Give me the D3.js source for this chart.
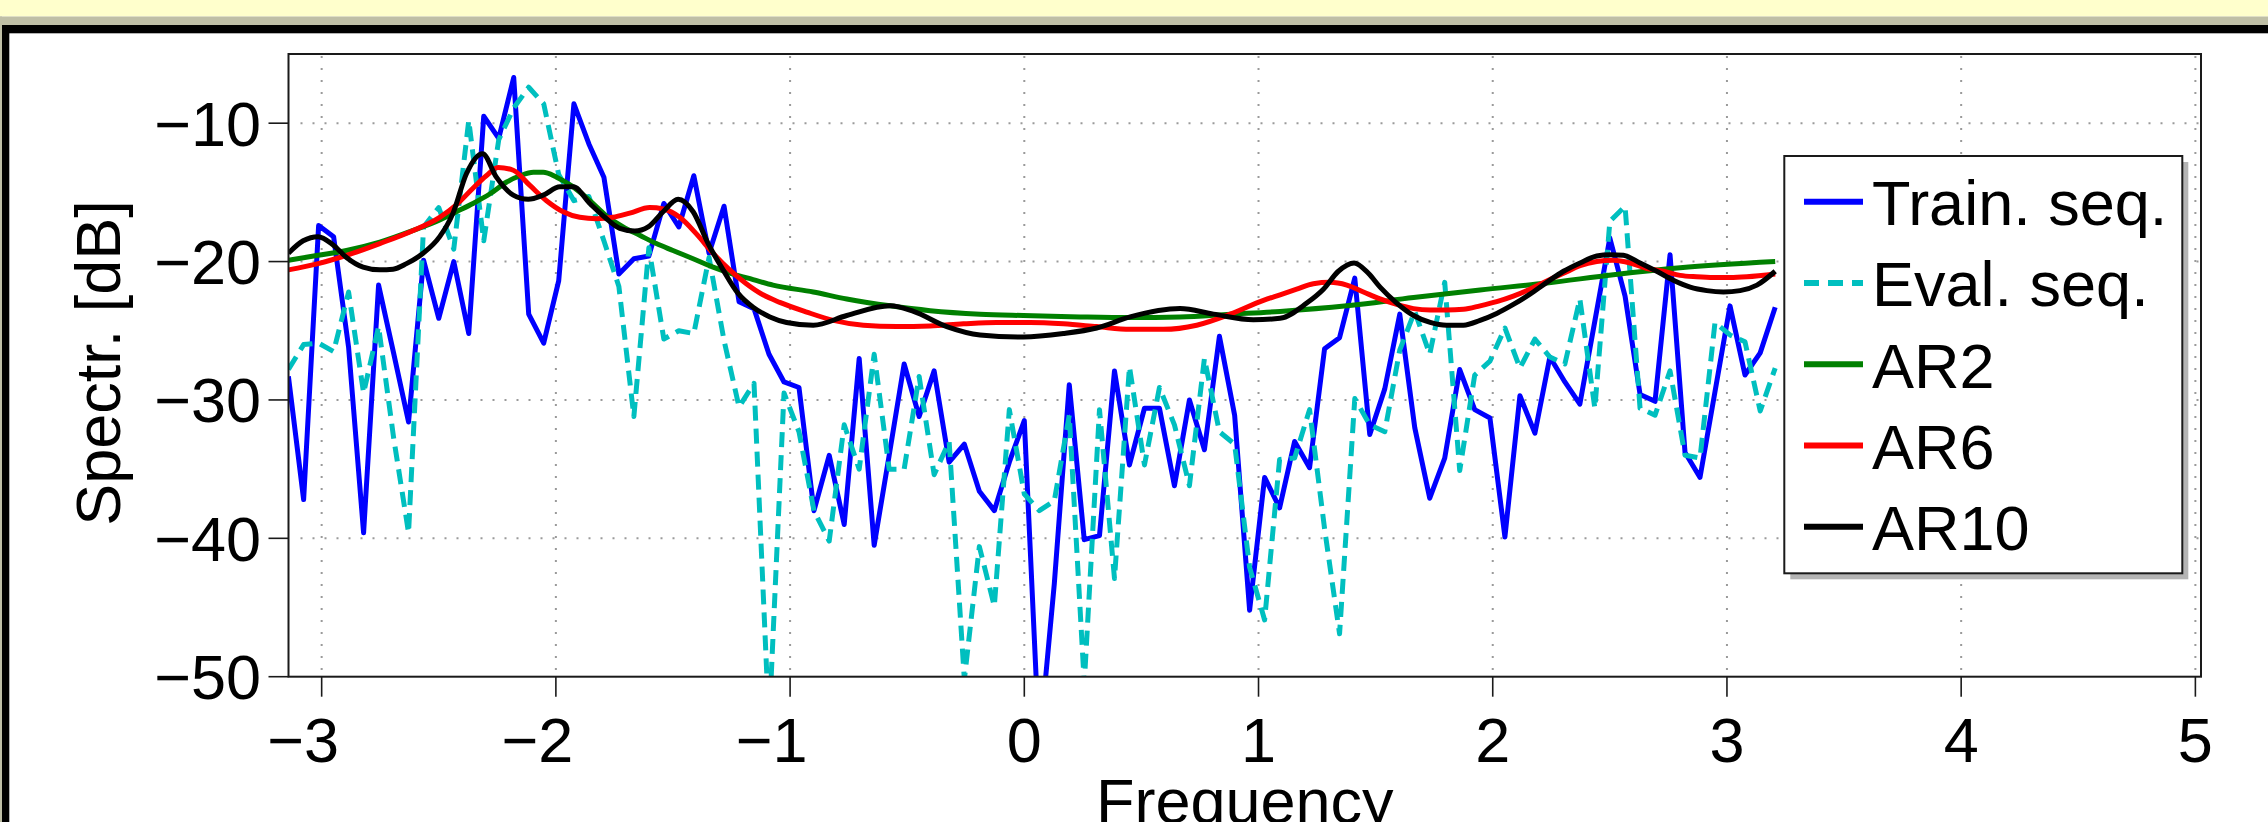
<!DOCTYPE html>
<html><head><meta charset="utf-8">
<script src="https://cdn.jsdelivr.net/npm/d3@7/dist/d3.min.js"></script>
<style>html,body{margin:0;padding:0;background:#fff;overflow:hidden}</style>
</head><body><svg id="c" width="2268" height="822"></svg>
<script>
// ---------- data ----------
const freq = [-3.142,-3.077,-3.013,-2.949,-2.885,-2.821,-2.757,-2.693,-2.629,-2.565,
  -2.500,-2.436,-2.372,-2.308,-2.244,-2.180,-2.116,-2.052,-1.988,-1.923,
  -1.859,-1.795,-1.731,-1.667,-1.603,-1.539,-1.475,-1.411,-1.346,-1.282,
  -1.218,-1.154,-1.090,-1.026,-0.962,-0.898,-0.833,-0.769,-0.705,-0.641,
  -0.577,-0.513,-0.449,-0.385,-0.321,-0.256,-0.192,-0.128,-0.064,0.000,
  0.064,0.128,0.192,0.256,0.321,0.385,0.449,0.513,0.577,0.641,
  0.705,0.769,0.833,0.898,0.962,1.026,1.090,1.154,1.218,1.282,
  1.346,1.411,1.475,1.539,1.603,1.667,1.731,1.795,1.859,1.923,
  1.988,2.052,2.116,2.180,2.244,2.308,2.372,2.436,2.500,2.565,
  2.629,2.693,2.757,2.821,2.885,2.949,3.013,3.077,3.142,3.206];

const trainDb = [-28.3,-37.2,-17.4,-18.2,-26.2,-39.6,-21.7,-26.6,-31.6,-19.9,
  -24.1,-20.0,-25.2,-9.5,-11.1,-6.7,-23.8,-25.9,-21.4,-8.6,
  -11.5,-13.9,-20.9,-19.8,-19.6,-15.8,-17.5,-13.8,-19.4,-16.0,
  -22.9,-23.4,-26.7,-28.7,-29.1,-38.0,-34.0,-39.0,-27.0,-40.5,
  -34.0,-27.4,-31.2,-27.9,-34.5,-33.2,-36.6,-38.0,-34.5,-31.5,
  -55.0,-43.3,-28.9,-40.1,-39.8,-27.9,-34.7,-30.6,-30.6,-36.2,
  -30.0,-33.6,-25.4,-31.1,-45.2,-35.6,-37.8,-33.0,-34.9,-26.3,
  -25.5,-21.2,-32.5,-29.2,-23.8,-32.0,-37.1,-34.2,-27.8,-30.7,
  -31.3,-39.9,-29.7,-32.4,-26.9,-28.7,-30.3,-24.3,-18.3,-22.5,
  -29.6,-30.1,-19.5,-33.8,-35.6,-29.4,-23.2,-28.2,-26.6,-23.3];

const evalDb = [-27.8,-26.0,-25.9,-26.5,-22.2,-29.5,-24.7,-32.7,-39.6,-17.5,
  -16.1,-19.1,-9.8,-18.5,-11.2,-8.9,-7.4,-8.6,-13.7,-15.6,
  -15.3,-18.5,-21.8,-31.2,-19.0,-25.6,-25.0,-25.2,-19.7,-25.7,
  -30.5,-28.8,-53.5,-29.5,-32.3,-38.0,-40.2,-31.8,-35.0,-26.7,
  -35.0,-35.0,-28.3,-35.4,-33.0,-50.2,-40.6,-44.9,-30.7,-36.8,
  -38.0,-37.3,-31.1,-50.5,-30.7,-42.9,-27.6,-34.7,-29.1,-31.8,
  -36.2,-27.0,-32.3,-33.2,-42.1,-45.9,-34.3,-34.2,-30.7,-39.3,
  -46.9,-29.9,-31.8,-32.3,-26.4,-23.6,-26.7,-21.5,-35.1,-28.2,
  -27.2,-24.8,-27.7,-25.6,-26.9,-27.4,-22.7,-30.6,-17.1,-16.0,
  -30.6,-31.1,-27.9,-34.0,-34.2,-24.4,-25.3,-25.8,-30.8,-27.7];

const ar2Freq = [-3.142,-3.015,-2.894,-2.752,-2.609,-2.496,-2.425,-2.354,-2.281,-2.210,
  -2.153,-2.096,-2.054,-1.997,-1.926,-1.855,-1.784,-1.713,-1.642,-1.571,
  -1.500,-1.414,-1.329,-1.244,-1.158,-1.073,-0.901,-0.758,-0.573,-0.402,
  -0.189,-0.004,0.238,0.452,0.665,0.879,1.092,1.377,1.662,1.946,
  2.231,2.515,2.800,3.206];
const ar2Db = [-19.9,-19.55,-19.2,-18.6,-17.75,-17.0,-16.4,-15.8,-15.1,-14.25,
  -13.8,-13.55,-13.55,-13.9,-14.6,-15.6,-16.7,-17.5,-18.1,-18.7,
  -19.2,-19.8,-20.4,-20.9,-21.3,-21.7,-22.2,-22.7,-23.2,-23.55,
  -23.8,-23.9,-24.0,-24.05,-24.0,-23.8,-23.6,-23.2,-22.6,-22.05,
  -21.55,-20.95,-20.45,-20.0];

const ar6Freq = [-3.142,-3.015,-2.894,-2.752,-2.609,-2.496,-2.425,-2.354,-2.297,-2.247,
  -2.182,-2.111,-2.040,-1.969,-1.898,-1.827,-1.756,-1.685,-1.599,-1.542,
  -1.471,-1.400,-1.329,-1.258,-1.187,-1.116,-1.044,-0.929,-0.815,-0.687,
  -0.545,-0.402,-0.260,-0.118,0.025,0.167,0.309,0.452,0.594,0.736,
  0.879,1.021,1.092,1.163,1.234,1.305,1.377,1.448,1.519,1.590,
  1.662,1.733,1.803,1.875,1.946,2.017,2.088,2.159,2.231,2.302,
  2.373,2.444,2.515,2.587,2.658,2.729,2.800,2.871,2.943,3.014,
  3.085,3.206];
const ar6Db = [-20.6,-20.15,-19.55,-18.7,-17.75,-16.8,-15.9,-14.7,-13.8,-13.2,
  -13.4,-14.5,-15.6,-16.4,-16.8,-16.9,-16.8,-16.5,-16.1,-16.2,
  -16.8,-18.0,-19.4,-20.6,-21.6,-22.4,-22.95,-23.65,-24.25,-24.6,
  -24.7,-24.65,-24.5,-24.4,-24.4,-24.5,-24.7,-24.9,-24.9,-24.6,
  -23.8,-22.8,-22.4,-22.0,-21.6,-21.5,-21.7,-22.2,-22.7,-23.1,
  -23.4,-23.5,-23.5,-23.45,-23.2,-22.9,-22.5,-22.0,-21.4,-20.85,
  -20.3,-20.0,-19.9,-20.1,-20.5,-20.7,-21.0,-21.1,-21.15,-21.15,
  -21.1,-20.9];

const ar10Freq = [-3.142,-3.079,-3.015,-2.951,-2.894,-2.823,-2.752,-2.695,-2.638,-2.567,
  -2.496,-2.439,-2.382,-2.313,-2.254,-2.182,-2.118,-2.054,-1.983,-1.926,
  -1.855,-1.791,-1.727,-1.663,-1.606,-1.542,-1.478,-1.414,-1.350,-1.286,
  -1.222,-1.158,-1.086,-1.015,-0.901,-0.758,-0.573,-0.473,-0.331,-0.189,
  -0.004,0.167,0.309,0.452,0.665,0.808,0.978,1.092,1.206,1.277,
  1.341,1.408,1.469,1.519,1.590,1.662,1.733,1.803,1.875,1.946,
  2.017,2.088,2.159,2.231,2.302,2.373,2.444,2.501,2.558,2.629,
  2.700,2.771,2.843,2.914,2.985,3.056,3.128,3.206];
const ar10Db = [-19.4,-18.5,-18.2,-18.8,-19.7,-20.4,-20.6,-20.55,-20.15,-19.4,
  -18.2,-16.5,-13.65,-12.2,-13.9,-15.2,-15.5,-15.2,-14.6,-14.6,
  -15.8,-16.8,-17.6,-17.8,-17.5,-16.4,-15.5,-16.4,-18.7,-20.6,
  -22.3,-23.3,-24.0,-24.4,-24.6,-23.9,-23.2,-23.6,-24.7,-25.3,
  -25.45,-25.2,-24.8,-24.0,-23.4,-23.8,-24.2,-24.1,-23.0,-22.0,
  -20.7,-20.1,-20.85,-21.85,-23.0,-23.9,-24.4,-24.6,-24.6,-24.25,
  -23.75,-23.1,-22.35,-21.5,-20.7,-20.1,-19.6,-19.5,-19.55,-20.1,
  -20.7,-21.35,-21.85,-22.1,-22.2,-22.1,-21.7,-20.7];

const xTicks = [-3,-2,-1,0,1,2,3,4,5];
const yTicks = [-50,-40,-30,-20,-10];
const yGrid = [-40,-30,-20,-10];
const legendLabels = ["Train. seq.","Eval. seq.","AR2","AR6","AR10"];

// ---------- layout ----------
const W = 2268, H = 822;
const FONT = "'Liberation Sans', Arial, Helvetica, sans-serif";
const FS = 63;
const svg = d3.select("#c");

// window frame
svg.append("rect").attr("x",0).attr("y",0).attr("width",W).attr("height",H).attr("fill","#ffffff");
svg.append("rect").attr("x",0).attr("y",0).attr("width",W).attr("height",16.5).attr("fill","#ffffcc");
svg.append("rect").attr("x",0).attr("y",16.5).attr("width",W).attr("height",8.5).attr("fill","#bfbfa6");
svg.append("rect").attr("x",0).attr("y",16.5).attr("width",2).attr("height",H).attr("fill","#bfbfa6");
svg.append("rect").attr("x",2).attr("y",25).attr("width",W).attr("height",8.3).attr("fill","#000");
svg.append("rect").attr("x",2).attr("y",25).attr("width",7.3).attr("height",H).attr("fill","#000");

const L = 288.5, R = 2201, T = 54, B = 676.7;
const x = d3.scaleLinear().domain([-Math.PI, 5.024]).range([L, R]);
const y = d3.scaleLinear().domain([-50, -5]).range([B, T]);

// grid
const grid = svg.append("g").attr("stroke","#9a9a9a").attr("stroke-width",2)
  .attr("stroke-dasharray","2,10");
grid.selectAll("line.v").data(xTicks).join("line")
  .attr("x1",d=>x(d)).attr("x2",d=>x(d)).attr("y1",T+2).attr("y2",B);
grid.selectAll("line.h").data(yGrid).join("line")
  .attr("x1",L+12).attr("x2",R).attr("y1",d=>y(d)).attr("y2",d=>y(d));

// clip
svg.append("clipPath").attr("id","pc").append("rect")
  .attr("x",L).attr("y",T).attr("width",R-L).attr("height",B-T);
const plot = svg.append("g").attr("clip-path","url(#pc)");

const lineRaw = d3.line().x(d=>x(d[0])).y(d=>y(d[1]));
const lineSmooth = d3.line().x(d=>x(d[0])).y(d=>y(d[1])).curve(d3.curveMonotoneX);
const zip = (a,b)=>a.map((v,i)=>[v,b[i]]);

const series = [
  {data: zip(freq, trainDb), color:"#0000ff", dash:null, gen:lineRaw},
  {data: zip(freq, evalDb), color:"#00bfbf", dash:"15,8", gen:lineRaw},
  {data: zip(ar2Freq, ar2Db), color:"#008000", dash:null, gen:lineSmooth},
  {data: zip(ar6Freq, ar6Db), color:"#ff0000", dash:null, gen:lineSmooth},
  {data: zip(ar10Freq, ar10Db), color:"#000000", dash:null, gen:lineSmooth}
];
series.forEach(s=>{
  plot.append("path").attr("d", s.gen(s.data)).attr("fill","none")
    .attr("stroke", s.color).attr("stroke-width",5)
    .attr("stroke-linejoin","round")
    .attr("stroke-dasharray", s.dash);
});

// axes frame
svg.append("rect").attr("x",L).attr("y",T).attr("width",R-L).attr("height",B-T)
  .attr("fill","none").attr("stroke","#1a1a1a").attr("stroke-width",2);

// ticks
const tk = svg.append("g").attr("stroke","#1a1a1a").attr("stroke-width",1.6);
tk.selectAll("line.x").data(xTicks).join("line")
  .attr("x1",d=>x(d)).attr("x2",d=>x(d)).attr("y1",B).attr("y2",B+20);
tk.selectAll("line.y").data(yTicks).join("line")
  .attr("x1",L-20).attr("x2",L).attr("y1",d=>y(d)).attr("y2",d=>y(d));

const fmt = d => (d<0 ? "\u2212" : "") + Math.abs(d);
svg.append("g").selectAll("text").data(xTicks).join("text")
  .attr("x", d=>x(d) + 0.556*FS/2).attr("y", 762)
  .attr("text-anchor","end").attr("font-family",FONT).attr("font-size",FS)
  .attr("fill","#000").text(fmt);
svg.append("g").selectAll("text").data(yTicks).join("text")
  .attr("x", 261).attr("y", d=>y(d) + 0.358*FS)
  .attr("text-anchor","end").attr("font-family",FONT).attr("font-size",FS)
  .attr("fill","#000").text(fmt);

// axis titles
svg.append("text").attr("transform","translate(120,363) rotate(-90)")
  .attr("text-anchor","middle").attr("font-family",FONT).attr("font-size",FS)
  .attr("fill","#000").text("Spectr. [dB]");
svg.append("text").attr("x",(L+R)/2).attr("y",822.5)
  .attr("text-anchor","middle").attr("font-family",FONT).attr("font-size",FS)
  .attr("fill","#000").text("Frequency");

// legend
const lg = {x:1784.3, y:156, w:398, h:417.3};
svg.append("rect").attr("x",lg.x+6).attr("y",lg.y+6).attr("width",lg.w).attr("height",lg.h)
  .attr("fill","#b4b4b4");
svg.append("rect").attr("x",lg.x).attr("y",lg.y).attr("width",lg.w).attr("height",lg.h)
  .attr("fill","#fff").attr("stroke","#1a1a1a").attr("stroke-width",2);
legendLabels.forEach((lab,i)=>{
  const base = 225 + 81.25*i;
  const s = series[i];
  svg.append("line").attr("x1",1804).attr("x2",1863).attr("y1",base-23.3).attr("y2",base-23.3)
    .attr("stroke",s.color).attr("stroke-width",6)
    .attr("stroke-dasharray", s.dash ? "15,9" : null);
  svg.append("text").attr("x",1872).attr("y",base)
    .attr("font-family",FONT).attr("font-size",FS).attr("fill","#000").text(lab);
});
</script>
</body></html>
